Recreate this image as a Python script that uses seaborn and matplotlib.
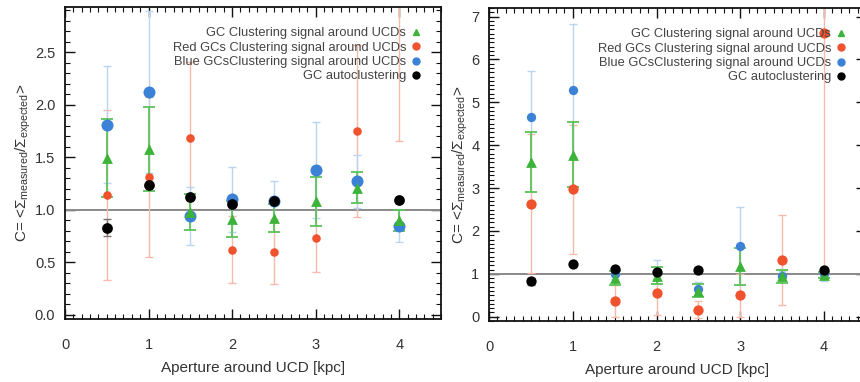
import numpy as np
import pandas as pd
import matplotlib
matplotlib.use("Agg")
import matplotlib.pyplot as plt
import seaborn as sns
from matplotlib.lines import Line2D
from matplotlib.ticker import MultipleLocator, FormatStrFormatter

aperture = [0.5, 1.0, 1.5, 2.0, 2.5, 3.0, 3.5, 4.0]

# left panel
left_gc = [1.49, 1.58, 0.98, 0.91, 0.92, 1.08, 1.21, 0.90]
left_gc_err = [0.37, 0.40, 0.17, 0.17, 0.13, 0.23, 0.15, 0.10]
left_red = [1.14, 1.31, 1.68, 0.62, 0.60, 0.73, 1.75, 3.60]
left_red_err = [0.81, 0.76, 0.73, 0.32, 0.31, 0.32, 0.82, 1.95]
left_blue = [1.81, 2.12, 0.94, 1.10, 1.08, 1.38, 1.27, 0.85]
left_blue_err = [0.56, 0.77, 0.28, 0.31, 0.19, 0.46, 0.25, 0.16]

# right panel
right_gc = [3.60, 3.78, 0.90, 0.96, 0.61, 1.18, 0.94, 0.97]
right_gc_err = [0.70, 0.76, 0.17, 0.20, 0.15, 0.43, 0.15, 0.07]
right_red = [2.63, 2.97, 0.37, 0.56, 0.16, 0.50, 1.32, 6.62]
right_red_err = [1.62, 1.50, 0.38, 0.52, 0.20, 0.50, 1.05, 5.60]
right_blue = [4.65, 5.28, 1.00, 1.05, 0.65, 1.65, 0.95, 1.00]
right_blue_err = [1.08, 1.55, 0.12, 0.28, 0.15, 0.90, 0.12, 0.17]

# GC autoclustering (same in both panels)
auto = [0.83, 1.24, 1.12, 1.05, 1.08, np.nan, np.nan, 1.09]
auto_err = [0.08, 0, 0, 0, 0, np.nan, np.nan, 0]

labels = ["GC Clustering signal around UCDs",
          "Red GCs Clustering signal around UCDs",
          "Blue GCsClustering signal around UCDs",
          "GC autoclustering"]

GREEN = "#3db33a"
RED = "#f0522e"
BLUE = "#3b82d6"
BLACK = "#000000"

sns.set_theme(style="ticks")
plt.rcParams["font.family"] = ["Liberation Sans", "DejaVu Sans"]
plt.rcParams["mathtext.fontset"] = "custom"
plt.rcParams["mathtext.rm"] = "Liberation Sans"
plt.rcParams["mathtext.it"] = "Liberation Sans:italic"


def make_df(gc, gc_err, red, red_err, blue, blue_err):
    rows = []
    for name, vals, errs in [("gc", gc, gc_err), ("red", red, red_err),
                             ("blue", blue, blue_err), ("auto", auto, auto_err)]:
        for x, v, e in zip(aperture, vals, errs):
            rows.append({"aperture": x, "C": v, "err": e, "series": name})
    return pd.DataFrame(rows)


def draw_panel(ax, df, sizes, ylim, ymajor, yminor):
    ax.axhline(1.0, color="#8a8a8a", lw=1.4, zorder=1)
    bar_style = {
        "red": dict(color="#f7b9aa", lw=1.0, capsize=3),
        "blue": dict(color="#b9d5f2", lw=1.0, capsize=3),
        "gc": dict(color="#5cc35a", lw=1.3, capsize=4),
        "auto": dict(color="#777777", lw=1.0, capsize=3),
    }
    for name in ["red", "blue", "gc", "auto"]:
        d = df[df.series == name].dropna()
        st = bar_style[name]
        ax.errorbar(d.aperture, d.C, yerr=d.err, fmt="none",
                    capsize=st["capsize"], capthick=st["lw"],
                    color=st["color"], lw=st["lw"], zorder=2)
    colors = {"gc": GREEN, "red": RED, "blue": BLUE, "auto": BLACK}
    markers = {"gc": "^", "red": "o", "blue": "o", "auto": "o"}
    for z, name in enumerate(["red", "blue", "gc", "auto"]):
        d = df[df.series == name].dropna()
        sns.scatterplot(data=d, x="aperture", y="C", ax=ax, color=colors[name],
                        marker=markers[name], s=sizes[name], linewidth=0,
                        zorder=3 + z, legend=False)
    ax.set_xlim(0, 4.5)
    ax.set_ylim(*ylim)
    ax.xaxis.set_major_locator(MultipleLocator(1))
    ax.xaxis.set_minor_locator(MultipleLocator(0.1))
    ax.yaxis.set_major_locator(MultipleLocator(ymajor))
    ax.yaxis.set_minor_locator(MultipleLocator(yminor))
    ax.tick_params(which="both", direction="in", top=True, right=True,
                   colors="#111111", labelcolor="#333333")
    ax.tick_params(which="major", length=7, width=1.0, labelsize=10.5)
    ax.tick_params(which="minor", length=3.5, width=0.8)
    ax.tick_params(axis="x", which="major", pad=14)
    ax.tick_params(axis="y", which="major", pad=7)
    for s in ax.spines.values():
        s.set_linewidth(1.3)
        s.set_color("#111111")
    ax.set_xlabel("Aperture around UCD [kpc]", fontsize=11, color="#333333",
                  labelpad=6)
    ax.set_ylabel(r"C= <$\Sigma_{\rm measured}/\Sigma_{\rm expected}$>",
                  fontsize=11, color="#333333", labelpad=1)

    handles = [
        Line2D([], [], ls="none", marker="^", color=GREEN, markersize=5),
        Line2D([], [], ls="none", marker="o", color=RED, markersize=5),
        Line2D([], [], ls="none", marker="o", color=BLUE, markersize=5),
        Line2D([], [], ls="none", marker="o", color=BLACK, markersize=5),
    ]
    leg = ax.legend(handles, labels, loc="upper right",
                    bbox_to_anchor=(0.945, 0.935), frameon=False,
                    markerfirst=False, fontsize=9.3, handlelength=0.6,
                    handletextpad=0.5, labelspacing=0.18, borderaxespad=0,
                    borderpad=0)
    for t in leg.get_texts():
        t.set_color("#444444")


fig = plt.figure(figsize=(8.6, 3.82), dpi=100)
ax1 = fig.add_axes([65 / 860, 63 / 382, 376 / 860, 312 / 382])
ax2 = fig.add_axes([489 / 860, 61 / 382, 377 / 860, 313 / 382])

df_left = make_df(left_gc, left_gc_err, left_red, left_red_err,
                  left_blue, left_blue_err)
df_right = make_df(right_gc, right_gc_err, right_red, right_red_err,
                   right_blue, right_blue_err)

draw_panel(ax1, df_left, {"gc": 60, "red": 38, "blue": 75, "auto": 60},
           (-0.04, 2.93), 0.5, 0.1)
ax1.yaxis.set_major_formatter(FormatStrFormatter("%.1f"))
draw_panel(ax2, df_right, {"gc": 60, "red": 55, "blue": 45, "auto": 55},
           (-0.1, 7.2), 1, 0.1)

fig.savefig("out.png", dpi=100)
